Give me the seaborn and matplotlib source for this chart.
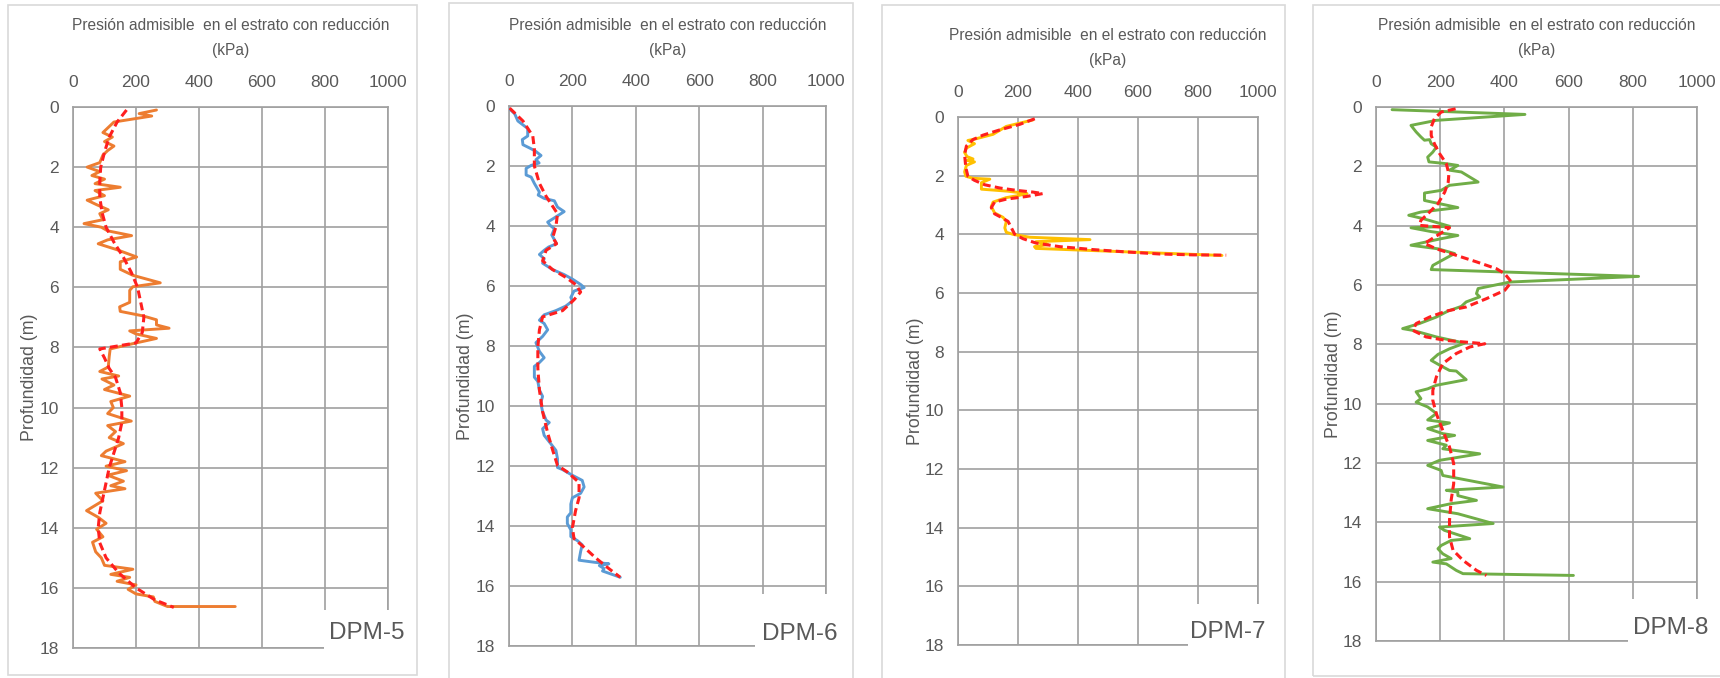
import matplotlib
matplotlib.use("Agg")
import matplotlib.pyplot as plt
import matplotlib.transforms as mtransforms
from matplotlib import font_manager
from matplotlib.patches import Rectangle
import pandas as pd
import seaborn as sns

# ---------------- datos ----------------
# DPM-5
dpm5_prof = [0.10, 0.22, 0.30, 0.50, 0.70, 0.85, 1.00, 1.15, 1.30, 1.45, 1.60, 1.85, 2.00, 2.15,
             2.28, 2.40, 2.55, 2.67, 2.78, 2.95, 3.10, 3.25, 3.42, 3.55, 3.75, 3.88, 4.00, 4.12,
             4.28, 4.42, 4.55, 4.75, 4.99, 5.15, 5.40, 5.60, 5.85, 5.98, 6.10, 6.50, 6.65, 6.80,
             6.95, 7.08, 7.25, 7.36, 7.45, 7.55, 7.70, 7.85, 7.97, 8.05, 8.30, 8.65, 8.80, 8.95,
             9.05, 9.25, 9.40, 9.62, 9.80, 10.00, 10.20, 10.45, 10.60, 10.80, 11.00, 11.20, 11.45,
             11.60, 11.80, 11.95, 12.10, 12.25, 12.45, 12.60, 12.70, 12.85, 13.10, 13.43, 13.65,
             13.85, 14.05, 14.30, 14.48, 14.80, 15.00, 15.25, 15.38, 15.55, 15.65, 15.78, 15.90,
             16.05, 16.20, 16.30, 16.45, 16.62, 16.62]
dpm5_pres = [265, 210, 250, 130, 110, 95, 125, 100, 130, 110, 95, 85, 45, 85,
             60, 100, 70, 150, 70, 100, 45, 75, 112, 85, 95, 35, 90, 110,
             186, 110, 80, 140, 202, 150, 150, 190, 277, 190, 180, 180, 148, 150,
             222, 265, 265, 305, 180, 200, 265, 200, 150, 118, 115, 112, 85, 145,
             92, 130, 100, 180, 120, 128, 110, 185, 110, 135, 115, 160, 105,
             90, 165, 105, 170, 110, 160, 120, 165, 72, 95, 43, 80,
             105, 75, 95, 62, 72, 90, 100, 190, 120, 180, 140, 200,
             175, 200, 255, 260, 300, 515]
dpm5_prof_tend = [0.10, 0.50, 1.00, 1.50, 2.00, 2.50, 3.00, 3.50, 4.00, 4.50, 5.00, 5.50, 6.00,
                  6.50, 7.00, 7.50, 7.85, 8.05, 8.35, 8.70, 9.00, 9.50, 10.00, 10.50, 11.00,
                  11.50, 12.00, 12.50, 13.00, 13.50, 14.00, 14.50, 15.00, 15.50, 16.00, 16.40, 16.65]
dpm5_pres_tend = [170, 140, 115, 100, 88, 85, 85, 92, 105, 130, 160, 185, 205,
                  215, 225, 220, 200, 85, 100, 115, 135, 150, 155, 155, 145,
                  130, 115, 105, 95, 85, 80, 85, 105, 145, 200, 260, 320]

# DPM-6
dpm6_prof = [0.10, 0.26, 0.50, 0.75, 1.00, 1.12, 1.29, 1.40, 1.50, 1.65, 1.79, 1.90, 1.98, 2.08,
             2.30, 2.37, 2.58, 2.87, 2.97, 3.08, 3.16, 3.37, 3.52, 3.73, 3.87, 3.98, 4.09, 4.30,
             4.59, 4.70, 4.81, 4.95, 5.09, 5.24, 5.45, 5.62, 5.77, 5.95, 6.05, 6.17, 6.38, 6.50,
             6.67, 6.82, 6.96, 7.14, 7.25, 7.46, 7.68, 7.89, 8.18, 8.39, 8.55, 8.68, 9.04, 9.18,
             9.47, 9.68, 9.90, 10.19, 10.47, 10.55, 10.76, 10.98, 11.26, 11.48, 11.76, 12.05,
             12.12, 12.31, 12.48, 12.70, 12.91, 13.06, 13.27, 13.56, 13.70, 13.92, 14.13, 14.35,
             14.49, 14.63, 14.85, 15.14, 15.21, 15.26, 15.32, 15.42, 15.50, 15.71]
dpm6_pres = [2, 18, 28, 59, 59, 42, 44, 65, 83, 101, 85, 95, 70, 54,
             54, 70, 80, 96, 92, 111, 143, 153, 174, 143, 122, 130, 143, 135,
             150, 125, 111, 96, 111, 106, 137, 174, 200, 226, 237, 205, 195, 200,
             179, 148, 111, 96, 111, 122, 106, 85, 96, 111, 96, 80, 80, 91,
             96, 106, 100, 106, 117, 127, 106, 111, 132, 148, 153, 153,
             169, 200, 231, 237, 226, 200, 195, 195, 184, 184, 195, 195,
             216, 231, 226, 221, 270, 315, 285, 300, 295, 351]
dpm6_prof_tend = [0.07, 0.50, 1.00, 1.43, 2.00, 2.58, 3.01, 3.59, 4.02, 4.38, 4.59, 4.81, 5.16,
                  5.45, 5.71, 5.95, 6.20, 6.46, 6.82, 7.03, 7.46, 8.03, 8.75, 9.47, 10.19, 10.90,
                  11.48, 11.98, 12.20, 12.55, 13.06, 13.49, 14.06, 14.42, 14.71, 15.06, 15.42, 15.71]
dpm6_pres_tend = [2, 44, 75, 80, 80, 96, 117, 153, 148, 138, 150, 117, 106,
                  137, 179, 210, 226, 205, 169, 106, 96, 91, 91, 96, 106, 122,
                  138, 153, 184, 221, 221, 210, 200, 205, 237, 273, 315, 351]

# DPM-7
dpm7_prof = [0.10, 0.32, 0.59, 0.74, 0.80, 0.91, 1.06, 1.21, 1.35, 1.43, 1.48, 1.53, 1.65, 1.87,
             2.02, 2.09, 2.12, 2.24, 2.46, 2.53, 2.61, 2.68, 2.75, 2.90, 3.05, 3.27, 3.42, 3.56,
             3.78, 3.93, 4.00, 4.10, 4.18, 4.25, 4.35, 4.42, 4.48, 4.72]
dpm7_pres = [250, 161, 117, 61, 33, 55, 28, 22, 30, 50, 30, 55, 28, 22,
             26, 50, 106, 78, 78, 167, 230, 200, 160, 117, 111, 122, 150, 161,
             156, 161, 183, 240, 440, 260, 300, 255, 260, 880]
dpm7_prof_tend = [0.06, 0.25, 0.44, 0.62, 0.77, 0.99, 1.28, 1.72, 2.02, 2.16, 2.31, 2.42, 2.50,
                  2.56, 2.61, 2.71, 2.80, 2.90, 3.09, 3.30, 3.42, 3.56, 3.78, 4.00, 4.15, 4.30,
                  4.42, 4.52, 4.60, 4.67, 4.70, 4.71]
dpm7_pres_tend = [256, 206, 139, 83, 50, 28, 22, 26, 33, 55, 89, 139, 194,
                  250, 283, 228, 161, 122, 111, 122, 144, 167, 178, 189, 217, 261,
                  339, 450, 561, 672, 783, 894]

# DPM-8
dpm8_prof = [0.09, 0.25, 0.45, 0.62, 0.84, 1.01, 1.12, 1.10, 1.24, 1.35, 1.52, 1.69, 1.85, 1.91,
             1.97, 2.13, 2.19, 2.53, 2.64, 2.81, 2.90, 3.15, 3.39, 3.54, 3.65, 3.76, 4.02, 4.07,
             4.20, 4.33, 4.45, 4.66, 4.78, 4.94, 5.06, 5.34, 5.48, 5.71, 5.90, 6.12, 6.29, 6.40,
             6.57, 6.72, 6.88, 7.08, 7.30, 7.47, 7.53, 7.75, 7.96, 8.15, 8.34, 8.54, 8.70, 8.88,
             8.90, 9.19, 9.38, 9.50, 9.60, 9.83, 9.95, 10.11, 10.33, 10.55, 10.65, 10.84, 11.01,
             11.07, 11.24, 11.40, 11.52, 11.69, 11.91, 12.08, 12.25, 12.42, 12.81, 12.92, 12.98,
             13.10, 13.26, 13.37, 13.54, 13.71, 14.04, 14.16, 14.27, 14.55, 14.61, 14.78, 14.89,
             15.06, 15.22, 15.34, 15.40, 15.62, 15.73, 15.79]
dpm8_pres = [50, 464, 188, 109, 125, 140, 151, 167, 172, 188, 177, 161, 165, 219,
             255, 229, 266, 318, 229, 203, 151, 151, 255, 140, 102, 146, 229, 109,
             172, 255, 198, 109, 193, 245, 224, 177, 172, 818, 417, 318, 313, 323,
             281, 266, 224, 188, 135, 83, 115, 188, 276, 229, 193, 172, 198, 229,
             250, 281, 188, 161, 125, 140, 125, 161, 188, 161, 229, 161, 208,
             245, 161, 219, 208, 323, 198, 161, 203, 208, 396, 219, 255,
             255, 313, 234, 161, 255, 365, 198, 213, 292, 234, 203, 193,
             208, 234, 177, 219, 250, 271, 615]
dpm8_prof_tend = [0.06, 0.17, 0.39, 0.67, 0.96, 1.24, 1.57, 1.91, 2.25, 2.53, 2.87, 3.26, 3.54,
                  3.82, 3.99, 4.07, 4.60, 4.78, 5.00, 5.22, 5.45, 5.62, 5.90, 6.18, 6.46, 6.74,
                  6.88, 7.08, 7.30, 7.53, 7.75, 7.87, 7.98, 8.09, 8.31, 8.65, 9.10, 9.55, 9.89,
                  10.34, 10.90, 11.46, 12.02, 12.70, 13.26, 13.93, 14.49, 14.94, 15.28, 15.62, 15.79]
dpm8_pres_tend = [248, 203, 182, 172, 172, 182, 198, 219, 227, 225, 214, 193, 167,
                  140, 135, 229, 151, 188, 250, 313, 375, 401, 422, 401, 344, 281,
                  219, 167, 125, 115, 156, 219, 339, 292, 250, 208, 188, 177, 177,
                  188, 208, 229, 242, 242, 234, 229, 229, 240, 271, 313, 344]

nombres = ["DPM-5", "DPM-6", "DPM-7", "DPM-8"]
colores = ["#ED7D31", "#5B9BD5", "#FFC000", "#70AD47"]
ticks_x = [0, 200, 400, 600, 800, 1000]
ticks_y = [0, 2, 4, 6, 8, 10, 12, 14, 16, 18]
titulo = "Presión admisible  en el estrato con reducción"
unidad = "(kPa)"
eje_y = "Profundidad (m)"

series = [
    (dpm5_prof, dpm5_pres, dpm5_prof_tend, dpm5_pres_tend),
    (dpm6_prof, dpm6_pres, dpm6_prof_tend, dpm6_pres_tend),
    (dpm7_prof, dpm7_pres, dpm7_prof_tend, dpm7_pres_tend),
    (dpm8_prof, dpm8_pres, dpm8_prof_tend, dpm8_pres_tend),
]

# ---------------- estilo ----------------
sns.set_theme(style="white")
disponibles = {f.name for f in font_manager.fontManager.ttflist}
familia = next((f for f in ["Liberation Sans Narrow", "DejaVu Sans Condensed", "Liberation Sans"]
                if f in disponibles), "DejaVu Sans")
plt.rcParams["font.family"] = [familia, "DejaVu Sans"]

GRIS_TXT = "#595959"
GRIS_REJ = "#A0A0A0"
GRIS_MARCO = "#D9D9D9"

W, H = 1720, 678
fig = plt.figure(figsize=(W / 100, H / 100), dpi=100)
fig.patch.set_facecolor("white")

# áreas de trazado (px): izquierda, derecha, arriba, abajo
areas = [(73, 388, 107, 648), (509, 826, 106, 646), (958, 1258, 117, 645), (1376, 1697, 107, 641)]
# marcos de cada gráfico (px)
marcos = [(8, 417, 5, 675), (449, 853, 3, 700), (882, 1285, 5, 700), (1313, 1740, 5, 676)]
# recuadro de la etiqueta: x inicial (kPa), profundidad superior (m), posición del texto
recuadros = [(797, 16.75, 813, 17.5), (775, 16.25, 798, 17.6),
             (767, 16.6, 775, 17.55), (785, 16.6, 800, 17.55)]

for i, (prof, pres, prof_t, pres_t) in enumerate(series):
    l, r, t, b = areas[i]
    ax = fig.add_axes([l / W, 1 - b / H, (r - l) / W, (b - t) / H])

    med = pd.DataFrame({"Profundidad": prof, "Presion": pres})
    ten = pd.DataFrame({"Profundidad": prof_t, "Presion": pres_t})
    sns.lineplot(data=med, x="Presion", y="Profundidad", sort=False, estimator=None,
                 orient="y", color=colores[i], lw=2.1, ax=ax, zorder=3)
    sns.lineplot(data=ten, x="Presion", y="Profundidad", sort=False, estimator=None,
                 orient="y", color="#FF1F1F", lw=2.2, linestyle=(0, (2.6, 1.4)), ax=ax, zorder=4)

    ax.set_xlim(0, 1000)
    ax.set_ylim(18, 0)
    ax.set_xticks(ticks_x)
    ax.set_yticks(ticks_y)
    ax.xaxis.tick_top()
    ax.grid(True, color=GRIS_REJ, lw=1.2)
    ax.set_axisbelow(True)
    for s in ax.spines.values():
        s.set_visible(True)
        s.set_color(GRIS_REJ)
        s.set_linewidth(1.2)
    ax.tick_params(axis="x", length=0, pad=12.5, labelsize=12.5, labelcolor=GRIS_TXT)
    ax.tick_params(axis="y", length=0, pad=10, labelsize=12.5, labelcolor=GRIS_TXT)
    ax.set_xlabel("")
    ax.set_ylabel(eje_y, fontsize=12.8, color=GRIS_TXT, va="center")
    ax.yaxis.set_label_coords(-43 / (r - l), 0.5)

    # título en dos líneas sobre los números del eje
    tr1 = mtransforms.offset_copy(ax.transAxes, fig=fig, x=0, y=81, units="dots")
    tr2 = mtransforms.offset_copy(ax.transAxes, fig=fig, x=0, y=56, units="dots")
    ax.text(0.5, 1, titulo, transform=tr1, ha="center", va="center", fontsize=11.2, color=GRIS_TXT)
    ax.text(0.5, 1, unidad, transform=tr2, ha="center", va="center", fontsize=11.2, color=GRIS_TXT)

    # recuadro blanco con el nombre del ensayo
    x0, y0, xt, yt = recuadros[i]
    ax.add_patch(Rectangle((x0, y0), 1100 - x0, 19 - y0, facecolor="white", edgecolor="none",
                           zorder=6, clip_on=False))
    ax.text(xt, yt, nombres[i], ha="left", va="center", fontsize=17.5, color=GRIS_TXT, zorder=7)

    # marco del gráfico
    ml, mr, mt, mb = marcos[i]
    fig.patches.append(Rectangle((ml / W, 1 - mb / H), (mr - ml) / W, (mb - mt) / H,
                                 transform=fig.transFigure, facecolor="none",
                                 edgecolor=GRIS_MARCO, lw=1.2, zorder=0))

fig.savefig("out.png", dpi=100, facecolor="white")
